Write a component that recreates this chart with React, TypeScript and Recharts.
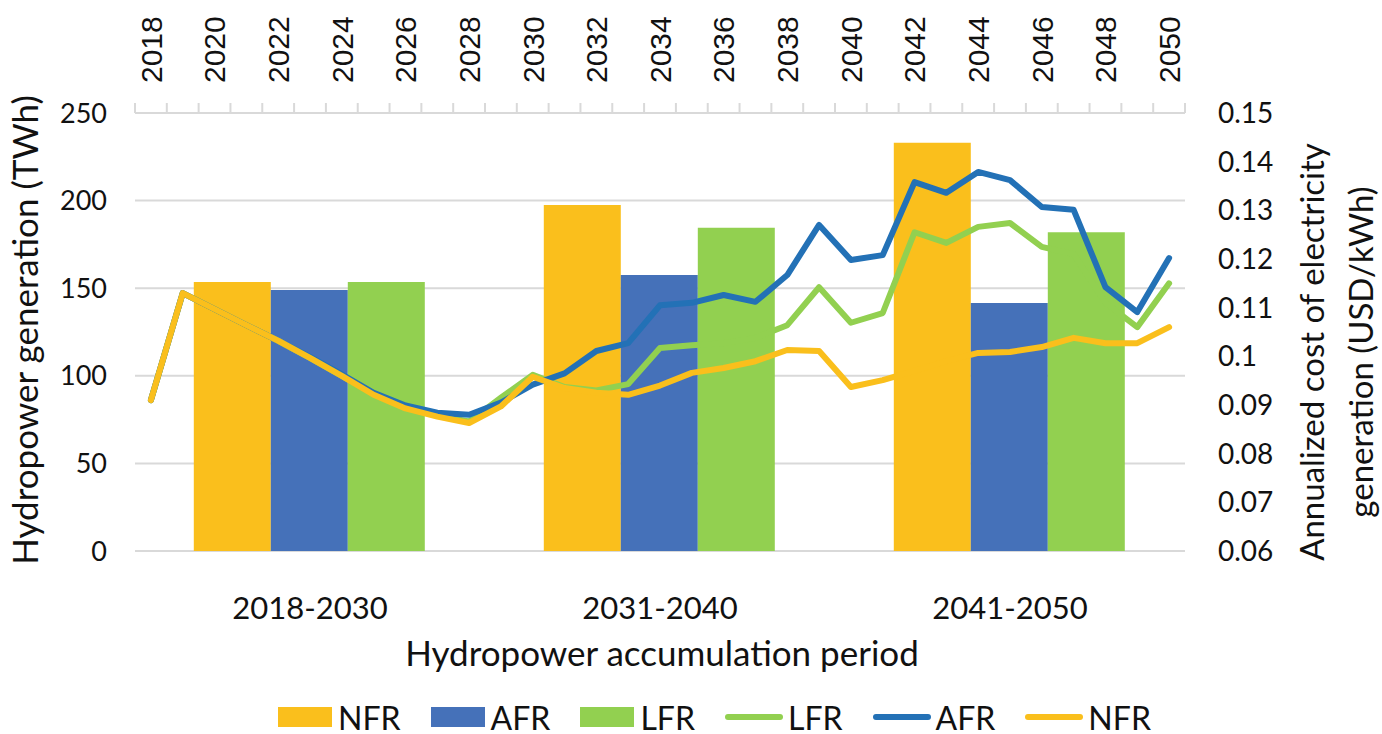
import React from 'react';
import { ComposedChart, Bar, Line, XAxis, YAxis, CartesianGrid, Legend } from 'recharts';

// bar groups (left axis, TWh)
const periods = ['2018-2030', '2031-2040', '2041-2050'];
const nfrGen = [153.5, 197.5, 233];
const afrGen = [149, 157.5, 141.5];
const lfrGen = [153.5, 184.5, 182];

// yearly cost lines (right axis, USD/kWh)
const years = [
  2018, 2019, 2020, 2021, 2022, 2023, 2024, 2025, 2026, 2027, 2028,
  2029, 2030, 2031, 2032, 2033, 2034, 2035, 2036, 2037, 2038, 2039,
  2040, 2041, 2042, 2043, 2044, 2045, 2046, 2047, 2048, 2049, 2050,
];
const lfrCost = [
  0.091, 0.113, 0.1097, 0.1064, 0.1032, 0.0997, 0.096, 0.0922, 0.0895, 0.0878, 0.0866,
  0.0915, 0.0962, 0.0937, 0.093, 0.0943, 0.1017, 0.1023, 0.1027, 0.1038, 0.1064, 0.1142,
  0.1069, 0.1089, 0.1255, 0.1233, 0.1266, 0.1274, 0.1225, 0.121, 0.111, 0.106, 0.115,
];
const afrCost = [
  0.091, 0.113, 0.1097, 0.1064, 0.1032, 0.0999, 0.0963, 0.0925, 0.0899, 0.0884, 0.088,
  0.0905, 0.0942, 0.0965, 0.1011, 0.1027, 0.1105, 0.111, 0.1126, 0.1112, 0.1167, 0.127,
  0.1198, 0.1208, 0.1358, 0.1336, 0.1379, 0.1362, 0.1307, 0.1301, 0.1142, 0.1091, 0.1202,
];
const nfrCost = [
  0.091, 0.113, 0.1097, 0.1064, 0.1032, 0.0997, 0.096, 0.0921, 0.0893, 0.0876, 0.0863,
  0.0897, 0.0958, 0.0935, 0.0925, 0.0921, 0.094, 0.0966, 0.0976, 0.099, 0.1013, 0.1011,
  0.0937, 0.0951, 0.097, 0.099, 0.1007, 0.1009, 0.1019, 0.1038, 0.1027, 0.1027, 0.106,
];

const genTicks = [0, 50, 100, 150, 200, 250];
const costTicks = [0.06, 0.07, 0.08, 0.09, 0.1, 0.11, 0.12, 0.13, 0.14, 0.15];

const barData = periods.map((period, i) => ({
  period,
  nfr: nfrGen[i],
  afr: afrGen[i],
  lfr: lfrGen[i],
}));

const lineData = years.map((year, i) => ({
  year,
  nfr: nfrCost[i],
  afr: afrCost[i],
  lfr: lfrCost[i],
}));

const YELLOW = '#FABF1C';
const BLUE_BAR = '#4571B9';
const GREEN = '#92D050';
const BLUE_LINE = '#2371B6';
const GRID = '#D9D9D9';
const TEXT = '#111';
const FONT = 'Lato, "Open Sans", sans-serif';

const PLOT_W = 1050;

// legend follows the series order, bars first then lines
const legendItems = [
  { name: 'NFR', color: YELLOW, kind: 'bar' },
  { name: 'AFR', color: BLUE_BAR, kind: 'bar' },
  { name: 'LFR', color: GREEN, kind: 'bar' },
  { name: 'LFR', color: GREEN, kind: 'line' },
  { name: 'AFR', color: BLUE_LINE, kind: 'line' },
  { name: 'NFR', color: YELLOW, kind: 'line' },
];

const YearTick = (props: any) => {
  const { x, y, payload } = props;
  const idx = props.index ?? payload.index ?? years.indexOf(payload.value);
  const half = PLOT_W / years.length / 2;
  const isLast = payload.value === years[years.length - 1];
  return (
    <g>
      <line x1={x - half} x2={x - half} y1={y - 10} y2={y} stroke={GRID} strokeWidth={2} />
      {isLast && <line x1={x + half} x2={x + half} y1={y - 10} y2={y} stroke={GRID} strokeWidth={2} />}
      {idx % 2 === 0 && (
        <text
          transform={`translate(${x},${y - 30}) rotate(-90)`}
          dy="0.36em"
          textAnchor="start"
          fontFamily='"Liberation Sans", Arial, sans-serif'
          fontSize={30}
          fill={TEXT}
        >
          {payload.value}
        </text>
      )}
    </g>
  );
};

const LeftTitle = () => (
  <text
    transform="translate(25,330) rotate(-90)"
    dy="0.36em"
    textAnchor="middle"
    fontFamily={FONT}
    fontSize={35}
    fill={TEXT}
  >
    Hydropower generation (TWh)
  </text>
);

const RightTitle = () => (
  <g fontFamily={FONT} fontSize={33} fill={TEXT}>
    <text transform="translate(1312,352) rotate(-90)" dy="0.36em" textAnchor="middle">
      Annualized cost of electricity
    </text>
    <text transform="translate(1361,352) rotate(-90)" dy="0.36em" textAnchor="middle">
      generation (USD/kWh)
    </text>
  </g>
);

const BottomTitle = () => (
  <text x={662} y={666} textAnchor="middle" fontFamily={FONT} fontSize={35} fill={TEXT}>
    Hydropower accumulation period
  </text>
);

const LegendContent = () => (
  <div
    style={{
      display: 'flex',
      alignItems: 'center',
      height: 34,
      paddingLeft: 278,
      fontFamily: FONT,
      fontSize: 32,
      color: TEXT,
    }}
  >
    {legendItems.map((item, i) => (
      <div key={i} style={{ display: 'flex', alignItems: 'center', marginRight: 30 }}>
        {item.kind === 'line' ? (
          <div style={{ width: 58, height: 6, borderRadius: 3, background: item.color, marginRight: 5 }} />
        ) : (
          <div style={{ width: 54, height: 20, background: item.color, marginRight: 6 }} />
        )}
        <span>{item.name}</span>
      </div>
    ))}
  </div>
);

export default function App() {
  return (
    <div style={{ position: 'absolute', left: 0, top: 0, background: '#fff' }}>
      <ComposedChart
        width={1382}
        height={734}
        data={barData}
        margin={{ top: 0, right: 0, bottom: 0, left: 0 }}
        barCategoryGap="16.8%"
        barGap={0}
      >
        <CartesianGrid xAxisId="period" yAxisId="left" vertical={false} stroke={GRID} strokeWidth={2} />
        <XAxis
          xAxisId="period"
          dataKey="period"
          orientation="bottom"
          height={149}
          axisLine={false}
          tickLine={false}
          tickSize={0}
          tickMargin={46}
          tick={{ fontSize: 31, fill: TEXT, fontFamily: FONT }}
          label={BottomTitle}
        />
        <XAxis
          xAxisId="year"
          dataKey="year"
          type="category"
          orientation="top"
          height={113}
          allowDuplicatedCategory={false}
          interval={0}
          axisLine={{ stroke: GRID, strokeWidth: 2 }}
          tickLine={false}
          tickSize={0}
          tickMargin={0}
          tick={<YearTick />}
        />
        <YAxis
          yAxisId="left"
          width={135}
          domain={[0, 250]}
          ticks={genTicks}
          axisLine={false}
          tickLine={false}
          tickSize={0}
          tickMargin={28}
          tick={{ fontSize: 27, fill: TEXT, fontFamily: FONT }}
          label={LeftTitle}
        />
        <YAxis
          yAxisId="right"
          orientation="right"
          width={197}
          domain={[0.06, 0.15]}
          ticks={costTicks}
          axisLine={false}
          tickLine={false}
          tickSize={0}
          tickMargin={33}
          tick={{ fontSize: 28, fill: TEXT, fontFamily: FONT }}
          label={RightTitle}
        />
        <Bar xAxisId="period" yAxisId="left" dataKey="nfr" name="NFR" fill={YELLOW} isAnimationActive={false} />
        <Bar xAxisId="period" yAxisId="left" dataKey="afr" name="AFR" fill={BLUE_BAR} isAnimationActive={false} />
        <Bar xAxisId="period" yAxisId="left" dataKey="lfr" name="LFR" fill={GREEN} isAnimationActive={false} />
        <Line
          xAxisId="year"
          yAxisId="right"
          data={lineData}
          dataKey="lfr"
          name="LFR"
          stroke={GREEN}
          strokeWidth={6}
          strokeLinejoin="round"
          strokeLinecap="round"
          dot={false}
          activeDot={false}
          isAnimationActive={false}
        />
        <Line
          xAxisId="year"
          yAxisId="right"
          data={lineData}
          dataKey="afr"
          name="AFR"
          stroke={BLUE_LINE}
          strokeWidth={6}
          strokeLinejoin="round"
          strokeLinecap="round"
          dot={false}
          activeDot={false}
          isAnimationActive={false}
        />
        <Line
          xAxisId="year"
          yAxisId="right"
          data={lineData}
          dataKey="nfr"
          name="NFR"
          stroke={YELLOW}
          strokeWidth={6}
          strokeLinejoin="round"
          strokeLinecap="round"
          dot={false}
          activeDot={false}
          isAnimationActive={false}
        />
        <Legend
          verticalAlign="bottom"
          content={<LegendContent />}
          wrapperStyle={{ left: 0, top: 700, width: 1382, height: 34 }}
        />
      </ComposedChart>
    </div>
  );
}
